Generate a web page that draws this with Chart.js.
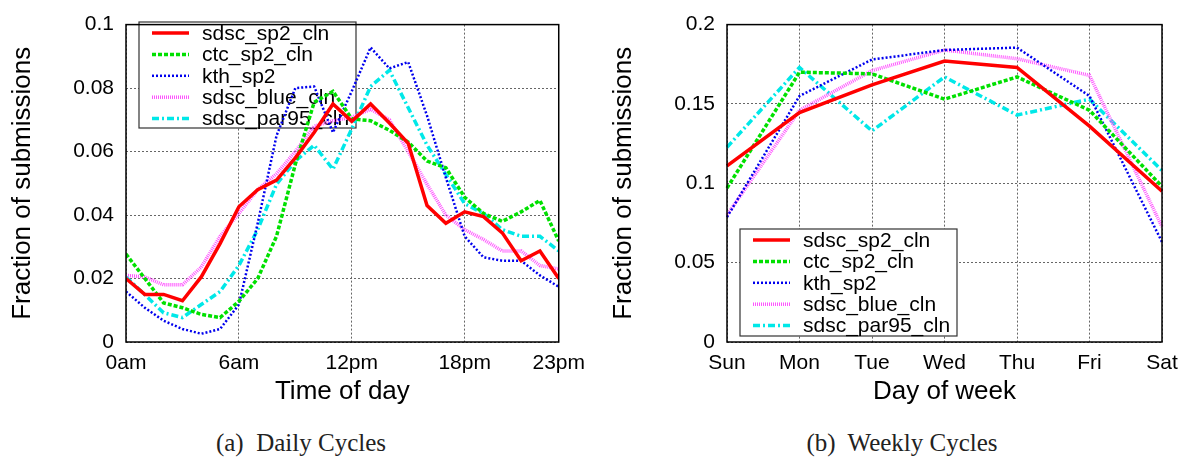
<!DOCTYPE html>
<html lang="en">
<head>
  <meta charset="UTF-8" />
  <title>Daily and Weekly Cycles</title>
  <script src="https://cdn.jsdelivr.net/npm/chart.js"></script>
  <style>
    body { margin: 0; background: #fff; }
    .wrap { position: relative; width: 1188px; height: 460px; overflow: hidden; }
    canvas { position: absolute; top: 0; }
    #dailyChart { left: 0; }
    #weeklyChart { left: 594px; }
    .caption {
      position: absolute;
      top: 428px;
      width: 400px;
      text-align: center;
      font-family: "Liberation Serif", "Times New Roman", serif;
      font-size: 25px;
      line-height: 30px;
      color: #222;
      white-space: pre;
    }
  </style>
</head>
<body>
  <div class="wrap">
    <canvas id="dailyChart" width="594" height="410"></canvas>
    <canvas id="weeklyChart" width="594" height="410"></canvas>
    <div class="caption" style="left:101px">(a)  Daily Cycles</div>
    <div class="caption" style="left:702px">(b)  Weekly Cycles</div>
  </div>

  <script>
    // data
    const seriesNames = ['sdsc_sp2_cln', 'ctc_sp2_cln', 'kth_sp2', 'sdsc_blue_cln', 'sdsc_par95_cln'];

    const hours = [0, 1, 2, 3, 4, 5, 6, 7, 8, 9, 10, 11, 12, 13, 14, 15, 16, 17, 18, 19, 20, 21, 22, 23];
    const hourTicks = [0, 6, 12, 18, 23];
    const hourTickLabels = ['0am', '6am', '12pm', '18pm', '23pm'];

    const dailySdscSp2 = [0.020, 0.015, 0.015, 0.013, 0.0205, 0.031, 0.0426, 0.048, 0.051, 0.058, 0.066, 0.075, 0.0695, 0.075, 0.069, 0.0626, 0.043, 0.0374, 0.041, 0.0395, 0.0344, 0.0256, 0.0287, 0.020];
    const dailyCtcSp2 = [0.0277, 0.020, 0.0123, 0.0108, 0.0087, 0.0077, 0.0128, 0.020, 0.0333, 0.056, 0.0755, 0.079, 0.0703, 0.0697, 0.0667, 0.063, 0.057, 0.0549, 0.0456, 0.0405, 0.038, 0.041, 0.0446, 0.0318];
    const dailyKthSp2 = [0.0159, 0.0108, 0.0067, 0.0041, 0.0026, 0.0041, 0.0118, 0.0374, 0.065, 0.080, 0.0805, 0.066, 0.079, 0.0928, 0.0862, 0.0882, 0.0713, 0.0518, 0.0333, 0.0267, 0.0256, 0.0256, 0.021, 0.0174];
    const dailySdscBlue = [0.021, 0.0205, 0.018, 0.018, 0.0236, 0.0333, 0.0405, 0.048, 0.053, 0.060, 0.068, 0.0697, 0.0708, 0.0733, 0.070, 0.060, 0.0497, 0.040, 0.0354, 0.0323, 0.0287, 0.0287, 0.0241, 0.023];
    const dailySdscPar95 = [0.0205, 0.0149, 0.0092, 0.0077, 0.0118, 0.0159, 0.0241, 0.0354, 0.0497, 0.057, 0.062, 0.0544, 0.0672, 0.0805, 0.0856, 0.0738, 0.062, 0.0528, 0.0436, 0.0405, 0.0354, 0.0333, 0.0333, 0.0287];

    const days = ['Sun', 'Mon', 'Tue', 'Wed', 'Thu', 'Fri', 'Sat'];
    const weeklySdscSp2 = [0.111, 0.1446, 0.162, 0.177, 0.173, 0.136, 0.095];
    const weeklyCtcSp2 = [0.097, 0.170, 0.169, 0.153, 0.167, 0.146, 0.098];
    const weeklyKthSp2 = [0.0787, 0.155, 0.178, 0.184, 0.1855, 0.155, 0.063];
    const weeklySdscBlue = [0.080, 0.146, 0.171, 0.184, 0.1785, 0.168, 0.0726];
    const weeklySdscPar95 = [0.1227, 0.173, 0.133, 0.167, 0.143, 0.153, 0.108];

    // line looks, gnuplot style
    const lineStyles = [
      { color: '#ff0000', width: 3.5, dash: [] },
      { color: '#00e000', width: 3.5, dash: [4, 2] },
      { color: '#0000ee', width: 2.5, dash: [2, 2] },
      { color: '#ff55ff', width: 3.5, dash: [1, 1] },
      { color: '#00e8e8', width: 3.5, dash: [7, 3, 2, 3] }
    ];

    const FONT = '"Liberation Sans", Arial, sans-serif';

    function makeDatasets(rows, xs) {
      return rows.map((vals, i) => ({
        label: seriesNames[i],
        data: xs ? vals.map((v, j) => ({ x: xs[j], y: v })) : vals,
        borderColor: lineStyles[i].color,
        borderWidth: lineStyles[i].width,
        borderDash: lineStyles[i].dash,
        pointRadius: 0,
        tension: 0,
        fill: false
      }));
    }

    // legend box inside plot + black frame
    const boxLegend = {
      id: 'boxLegend',
      beforeDatasetsDraw(chart, args, opts) {
        const ctx = chart.ctx;
        ctx.save();
        ctx.fillStyle = '#fff';
        ctx.fillRect(opts.x, opts.y, opts.w, opts.h);
        ctx.strokeStyle = '#333';
        ctx.lineWidth = 1.2;
        ctx.strokeRect(opts.x, opts.y, opts.w, opts.h);
        ctx.font = '21px ' + FONT;
        ctx.textBaseline = 'middle';
        chart.data.datasets.forEach((ds, i) => {
          const cy = opts.y + 11 + i * 21.4;
          ctx.beginPath();
          ctx.setLineDash(ds.borderDash);
          ctx.strokeStyle = ds.borderColor;
          ctx.lineWidth = ds.borderWidth;
          ctx.moveTo(opts.x + 13, cy);
          ctx.lineTo(opts.x + 50, cy);
          ctx.stroke();
          ctx.setLineDash([]);
          ctx.fillStyle = '#000';
          ctx.fillText(ds.label, opts.x + 63, cy + 1);
        });
        ctx.restore();
      },
      afterDraw(chart) {
        const a = chart.chartArea;
        const ctx = chart.ctx;
        ctx.save();
        ctx.strokeStyle = '#000';
        ctx.lineWidth = 1.5;
        ctx.strokeRect(a.left, a.top, a.right - a.left, a.bottom - a.top);
        ctx.restore();
      }
    };

    function yScale(max, step, width, titlePad) {
      return {
        min: 0,
        max: max,
        afterFit: (s) => { s.width = width; },
        ticks: {
          stepSize: step,
          padding: 12,
          color: '#000',
          font: { size: 21, family: FONT },
          callback: (v) => String(+v.toFixed(2))
        },
        grid: { color: '#666', lineWidth: 1, drawTicks: false },
        border: { display: false, dash: [2, 2] },
        title: {
          display: true,
          text: 'Fraction of submissions',
          color: '#000',
          font: { size: 26, family: FONT },
          padding: { top: titlePad, bottom: 0 }
        }
      };
    }

    function xTitle(text) {
      return {
        display: true,
        text: text,
        color: '#000',
        font: { size: 26, family: FONT },
        padding: { top: 0, bottom: 3 }
      };
    }

    new Chart(document.getElementById('dailyChart'), {
      type: 'line',
      data: {
        datasets: makeDatasets([dailySdscSp2, dailyCtcSp2, dailyKthSp2, dailySdscBlue, dailySdscPar95], hours)
      },
      options: {
        responsive: false,
        animation: false,
        layout: { padding: { top: 16, right: 33, left: 0, bottom: 0 } },
        plugins: {
          legend: { display: false },
          tooltip: { enabled: false },
          boxLegend: { x: 139, y: 22, w: 217, h: 106 }
        },
        scales: {
          x: {
            type: 'linear',
            min: 0,
            max: 23,
            afterFit: (s) => { s.height = 68; },
            afterBuildTicks: (s) => { s.ticks = hourTicks.map(v => ({ value: v })); },
            ticks: {
              autoSkip: false,
              padding: 9,
              maxRotation: 0,
              color: '#000',
              font: { size: 21, family: FONT },
              callback: (v) => hourTickLabels[hourTicks.indexOf(v)]
            },
            grid: { color: '#666', lineWidth: 1, drawTicks: false },
            border: { display: false, dash: [2, 2] },
            title: xTitle('Time of day')
          },
          y: yScale(0.1, 0.02, 126, 7)
        }
      },
      plugins: [boxLegend]
    });

    new Chart(document.getElementById('weeklyChart'), {
      type: 'line',
      data: {
        labels: days,
        datasets: makeDatasets([weeklySdscSp2, weeklyCtcSp2, weeklyKthSp2, weeklySdscBlue, weeklySdscPar95])
      },
      options: {
        responsive: false,
        animation: false,
        layout: { padding: { top: 16, right: 26, left: 0, bottom: 0 } },
        plugins: {
          legend: { display: false },
          tooltip: { enabled: false },
          boxLegend: { x: 146, y: 229, w: 217, h: 107 }
        },
        scales: {
          x: {
            offset: false,
            afterFit: (s) => { s.height = 68; },
            ticks: {
              autoSkip: false,
              padding: 9,
              maxRotation: 0,
              color: '#000',
              font: { size: 21, family: FONT }
            },
            grid: { color: '#666', lineWidth: 1, drawTicks: false, offset: false },
            border: { display: false, dash: [2, 2] },
            title: xTitle('Day of week')
          },
          y: yScale(0.2, 0.05, 133, 14)
        }
      },
      plugins: [boxLegend]
    });
  </script>
</body>
</html>
